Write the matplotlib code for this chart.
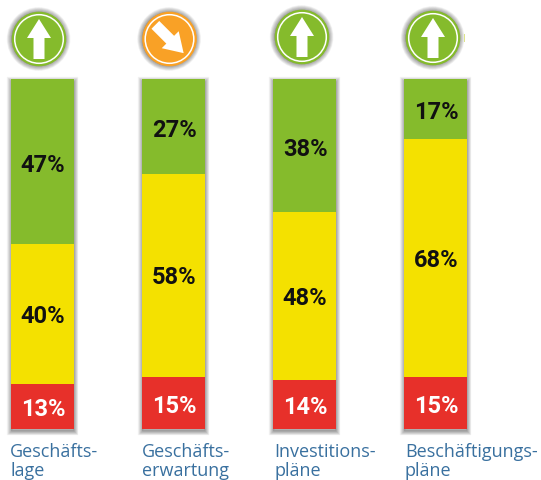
import matplotlib
matplotlib.use("Agg")
import matplotlib.pyplot as plt
import matplotlib.patheffects as pe
from matplotlib.patches import Circle, Polygon, Rectangle
from matplotlib.transforms import Affine2D

categories = ["Geschäfts-\nlage", "Geschäfts-\nerwartung", "Investitions-\npläne", "Beschäftigungs-\npläne"]
green_values = [47, 27, 38, 17]
yellow_values = [40, 58, 48, 68]
red_values = [13, 15, 14, 15]
trend_angles = [0, -135, 0, 0]
trend_colors = ["#85BB2C", "#F9A126", "#85BB2C", "#85BB2C"]

W, H = 541, 481
GREEN, YELLOW, RED = "#85BB2C", "#F4E100", "#E7302A"
BLUE = "#39709F"
FONT = "Roboto"
SIZE = 17

fig = plt.figure(figsize=(W / 100, H / 100), dpi=100)
overlay = fig.add_axes([0, 0, 1, 1])
overlay.set_xlim(0, W)
overlay.set_ylim(H, 0)
overlay.axis("off")

ax = fig.add_axes([(42.5 - 65.5) / W, (H - 430) / H, 131 * 4 / W, 350 / H])
ax.set_xlim(-0.5, 3.5)
ax.set_ylim(0, 100)
ax.axis("off")
ax.patch.set_alpha(0)

x = list(range(len(categories)))
width = 63 / 131


def soft_shadow(offset=(0, 0), steps=10, spread=6.0, alpha=0.035):
    return [pe.Stroke(linewidth=spread * (steps - i) / steps, foreground="#000000",
                      alpha=alpha, offset=offset) for i in range(steps)]


for xi, g, y, r in zip(x, green_values, yellow_values, red_values):
    total = g + y + r
    base = ax.bar(xi, total, width=width, color="#888888", linewidth=0, zorder=1, clip_on=False)[0]
    base.set_path_effects(soft_shadow(offset=(0.3, -1.5)))
    ax.bar(xi, r, width=width, color=RED, linewidth=0, zorder=2, clip_on=False)
    ax.bar(xi, y, bottom=r, width=width, color=YELLOW, linewidth=0, zorder=2)
    ax.bar(xi, g, bottom=r + y, width=width, color=GREEN, linewidth=0, zorder=2, clip_on=False)
    for val, pos, col, dy in ((g, r + y + g / 2, "#111111", -0.2), (y, r + y / 2, "#111111", 0.2), (r, r / 2, "white", 0)):
        ax.text(xi + 0.005, pos + dy, f"{val}%", ha="center", va="center_baseline", fontsize=SIZE,
                fontweight="bold", family=FONT, color=col, zorder=3)

# trend icons
icon_centers = [(39, 40), (169.5, 40), (302, 38), (433, 39)]
arrow_shape = [(0, -20), (12, -1), (5.5, -1), (5.5, 20), (-5.5, 20), (-5.5, -1), (-12, -1)]
for (cx, cy), angle, col in zip(icon_centers, trend_angles, trend_colors):
    sh = Circle((cx, cy), 27, facecolor="#888888", edgecolor="none", zorder=1)
    overlay.add_patch(sh)
    sh.set_path_effects(soft_shadow(offset=(-0.3, 0), spread=7.0, alpha=0.04))
    overlay.add_patch(Circle((cx, cy), 27.3, facecolor=col, edgecolor="none", zorder=2))
    overlay.add_patch(Circle((cx, cy), 24.3, facecolor="none", edgecolor="white", linewidth=1.1, zorder=3))
    tr = Affine2D().rotate_deg(-angle if angle else 0).translate(cx, cy) + overlay.transData
    overlay.add_patch(Polygon(arrow_shape, closed=True, facecolor="white", edgecolor="none", zorder=4, transform=tr))
overlay.add_patch(Rectangle((463.5, 35), 1.5, 8, facecolor="#DDE58A", edgecolor="none", zorder=1))

# category labels
label_x = [10, 142, 274, 405]
for lx, cat in zip(label_x, categories):
    line1, line2 = cat.split("\n")
    overlay.text(lx, 457, line1, ha="left", va="baseline", fontsize=13, family="Open Sans", color=BLUE)
    overlay.text(lx, 476, line2, ha="left", va="baseline", fontsize=13, family="Open Sans", color=BLUE)

fig.savefig("out.png", dpi=100, facecolor="white")
